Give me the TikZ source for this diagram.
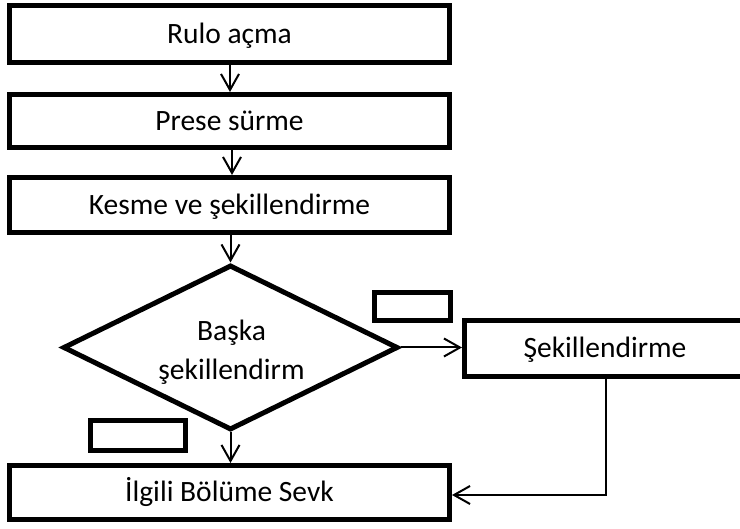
\documentclass[tikz,border=0pt]{standalone}
\usepackage{fontspec}
\setmainfont{Carlito}
\usetikzlibrary{shapes.geometric,arrows.meta}
\tikzset{
  procbox/.style={draw, line width=5pt, rectangle, inner sep=0pt,
    font=\fontsize{29.5}{39}\selectfont, text height=19pt, text depth=0pt},
  emptybox/.style={draw, line width=5pt, rectangle, inner sep=0pt},
  decbox/.style={draw, line width=5pt, diamond, inner sep=0pt},
  dtext/.style={align=center, inner sep=0pt, font=\fontsize{29.5}{39}\selectfont},
  arr/.style={draw, line width=2pt, -{Straight Barb[length=16pt,width=18pt]}}
}
\begin{document}
\begin{tikzpicture}[x=1pt,y=-1pt]
\useasboundingbox (0,0) rectangle (740,529);
\clip (0,0) rectangle (740,529);
\node[procbox, minimum width=440pt, minimum height=57pt] (b1) at (229.5,34) {Rulo açma};
\node[procbox, minimum width=440pt, minimum height=53pt] (b2) at (229.5,121) {Prese sürme};
\node[procbox, minimum width=440pt, minimum height=55pt] (b3) at (229.5,205) {Kesme ve şekillendirme};
\node[decbox, minimum width=335pt, minimum height=165pt] (dec) at (230.5,347.5) {};
\node[dtext] (dectext) at (231.5,352) {Başka\\şekillendirm};
\node[procbox, minimum width=311pt, minimum height=56pt] (sek) at (620,348.5) {\hspace*{-30pt}Şekillendirme};
\node[procbox, minimum width=440pt, minimum height=54pt] (ilg) at (229.5,492.5) {İlgili Bölüme Sevk};
\node[emptybox, minimum width=76pt, minimum height=28pt] (yesbox) at (412.5,306.5) {};
\node[emptybox, minimum width=95pt, minimum height=30pt] (nobox) at (138,435.5) {};
\coordinate (fb) at (606,495);
\draw[arr] (b1.south -| 230,0) -- (b2.north -| 230,0);
\draw[arr] (b2.south -| 232,0) -- (b3.north -| 232,0);
\draw[arr] (b3.south -| dec.north) -- (dec.north);
\draw[arr] (dec.south) -- (dec.south |- ilg.north);
\draw[arr] (dec.east) -- (sek.west |- dec.east);
\draw[arr] (fb |- sek.south) -- (fb) -- (fb -| ilg.east);
\end{tikzpicture}
\end{document}
